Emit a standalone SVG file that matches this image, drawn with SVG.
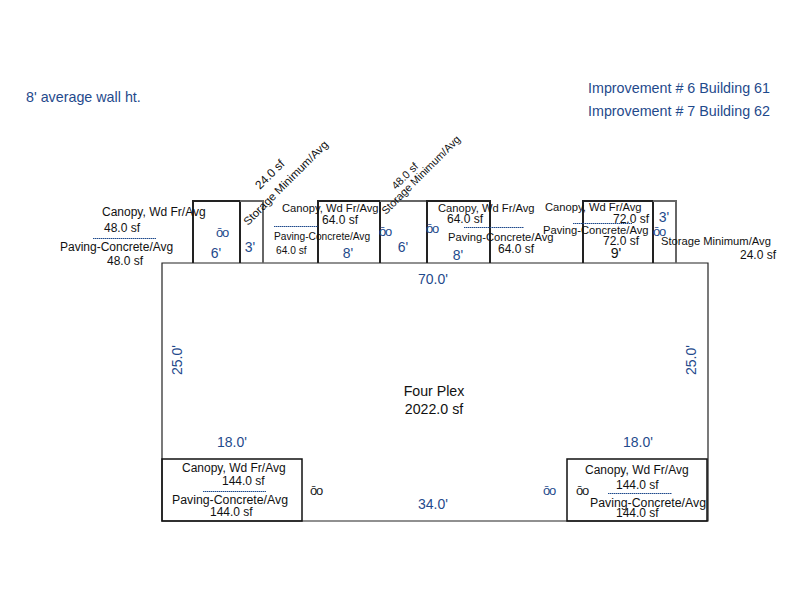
<svg xmlns="http://www.w3.org/2000/svg" width="800" height="600" viewBox="0 0 800 600">
<style>
text{font-family:"Liberation Sans",Arial,sans-serif;white-space:pre}
.k{font-size:12px;fill:#111}
.q{font-size:11.2px;fill:#111}
.w{font-size:12.3px;fill:#111}
.k2{font-size:10.2px;fill:#111}
.s{font-size:10.8px;fill:#111}
.p{font-size:14.2px;fill:#111}
.b{font-size:14px;fill:#1f4a8c}
.h{font-size:14.3px;fill:#1f4a8c}
.m{font-size:13px;fill:#1f4a8c;letter-spacing:-1.2px}
.n{fill:#222}
.c{text-anchor:middle}
.r{fill:none;stroke:#222;stroke-width:2}
.g{fill:none;stroke:#666;stroke-width:2}
.t{fill:none;stroke:#222;stroke-width:1.2}
.o{fill:none;stroke:#111;stroke-width:1.5}
.d{stroke:#1f4a8c;stroke-width:1;stroke-dasharray:1.500 .5}
</style>
<rect width="800" height="600" fill="#fff"/>
<g id="notes">
<text class="h" x="26" y="102">8' average wall ht.</text>
<text class="h" x="770" y="93" text-anchor="end">Improvement # 6 Building 61</text>
<text class="h" x="770" y="116" text-anchor="end">Improvement # 7 Building 62</text>
</g>
<g id="four-plex">
<path class="t" d="M162 521V263H708V521Z"/>
<text class="p c" x="434" y="396">Four Plex</text>
<text class="p c" x="434" y="414">2022.0 sf</text>
<text class="b c" x="433" y="284">70.0'</text>
<text class="b c" x="433" y="509">34.0'</text>
<text class="b c" x="232" y="447">18.0'</text>
<text class="b c" x="638" y="447">18.0'</text>
<text class="b c" transform="translate(182 360) rotate(-90)">25.0'</text>
<text class="b c" transform="translate(696 360) rotate(-90)">25.0'</text>
<text class="m n c" x="316" y="495">ōo</text>
<text class="m c" x="549" y="495">ōo</text>
</g>
<g id="canopy-1">
<path class="r" d="M193 263V201H240V263"/>
<text class="k" x="102" y="216">Canopy, Wd Fr/Avg</text>
<text class="k" x="104" y="232">48.0 sf</text>
<line class="d" x1="93" y1="238.500" x2="156" y2="238.500"/>
<text class="k" x="60" y="251">Paving-Concrete/Avg</text>
<text class="k" x="107" y="265">48.0 sf</text>
<text class="m c" x="222" y="237">ōo</text>
<text class="b c" x="216" y="258">6'</text>
</g>
<g id="storage-1">
<path class="g" d="M240 201H263V263"/>
<text class="k" transform="translate(260 190) rotate(-45)">24.0 sf</text>
<text class="q" transform="translate(248 226) rotate(-45) scale(1.04 1)">Storage Minimum/Avg</text>
<text class="b c" x="250" y="252">3'</text>
</g>
<g id="canopy-2">
<path class="r" d="M318 263V201H380V263"/>
<text class="q" x="282" y="212">Canopy, Wd Fr/Avg</text>
<text class="k" x="322" y="224">64.0 sf</text>
<line class="d" x1="274" y1="226.500" x2="318" y2="226.500"/>
<text class="k2" x="274" y="240">Paving-Concrete/Avg</text>
<text class="k2" x="276" y="254">64.0 sf</text>
<text class="b c" x="348" y="258">8'</text>
<text class="m c" x="385" y="236">ōo</text>
</g>
<g id="storage-2">
<path class="g" d="M380 201H427"/>
<text class="s" transform="translate(396 190) rotate(-45)">48.0 sf</text>
<text class="s" transform="translate(386 215) rotate(-45)">Storage Minimum/Avg</text>
<text class="b c" x="403" y="252">6'</text>
</g>
<g id="canopy-3">
<path class="r" d="M427 263V201H490V263"/>
<text class="q" x="438" y="212">Canopy, Wd Fr/Avg</text>
<text class="k" x="447" y="223">64.0 sf</text>
<line class="d" x1="464" y1="227.500" x2="524" y2="227.500"/>
<text class="q" x="448" y="241">Paving-Concrete/Avg</text>
<text class="k" x="498" y="253">64.0 sf</text>
<text class="b c" x="458" y="260">8'</text>
<text class="m c" x="432" y="233">ōo</text>
</g>
<g id="canopy-4">
<path class="r" d="M583 263V201H653V263"/>
<text class="q" x="545" y="211">Canopy, Wd Fr/Avg</text>
<text class="k" x="613" y="223">72.0 sf</text>
<line class="d" x1="573" y1="223.500" x2="632" y2="223.500"/>
<text class="q" x="543" y="234">Paving-Concrete/Avg</text>
<text class="k" x="603" y="245">72.0 sf</text>
<text class="p c" x="616" y="258">9'</text>
</g>
<g id="storage-3">
<path class="g" d="M653 201H676V263"/>
<text class="b c" x="664" y="222">3'</text>
<text class="m c" x="659" y="236">ōo</text>
<text class="q" x="661" y="245">Storage Minimum/Avg</text>
<text class="k" x="740" y="259">24.0 sf</text>
</g>
<g id="canopy-5">
<rect class="o" x="162" y="459" width="140" height="62"/>
<text class="k" x="182" y="472">Canopy, Wd Fr/Avg</text>
<text class="k" x="222" y="485">144.0 sf</text>
<line class="d" x1="203" y1="491.500" x2="266" y2="491.500"/>
<text class="w" x="172" y="504">Paving-Concrete/Avg</text>
<text class="k" x="210" y="516">144.0 sf</text>
</g>
<g id="canopy-6">
<rect class="o" x="567" y="459" width="140" height="62"/>
<text class="k" x="585" y="474">Canopy, Wd Fr/Avg</text>
<text class="k" x="616" y="489">144.0 sf</text>
<line class="d" x1="608" y1="493.500" x2="672" y2="493.500"/>
<text class="w" x="590" y="507">Paving-Concrete/Avg</text>
<text class="k" x="616" y="517">144.0 sf</text>
<text class="m n c" x="582" y="495">ōo</text>
</g>
</svg>
